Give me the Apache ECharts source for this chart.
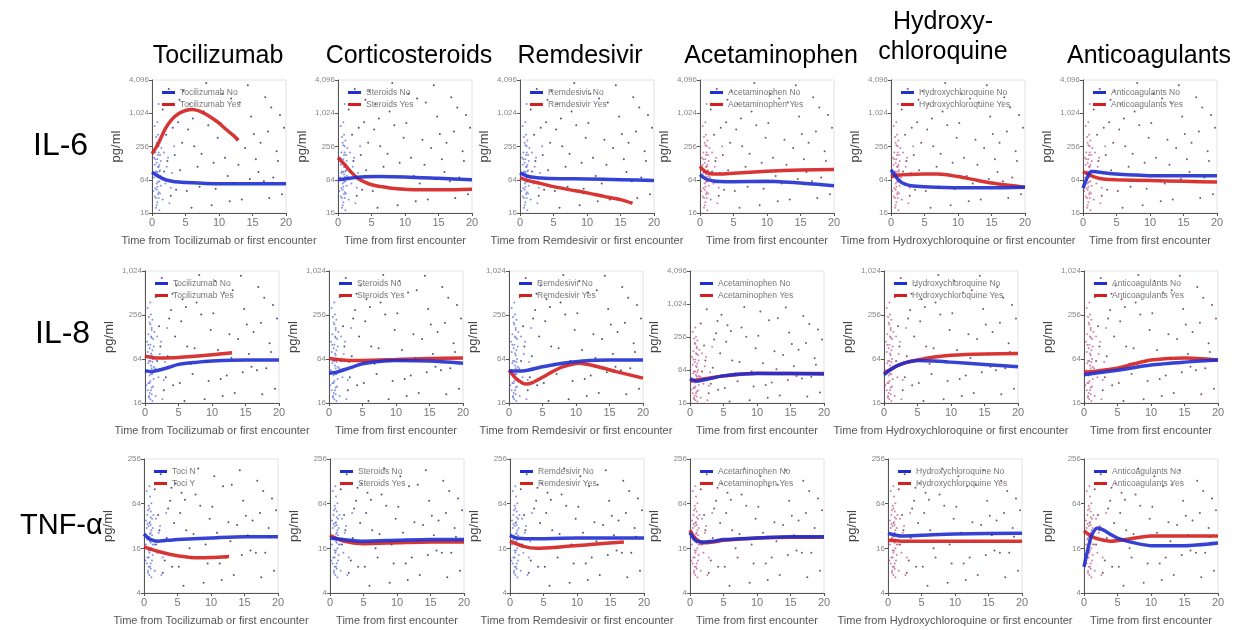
<!DOCTYPE html>
<html>
<head>
<meta charset="utf-8">
<script src="https://cdn.jsdelivr.net/npm/echarts@6/dist/echarts.min.js"></script>
<style>
  html, body { margin: 0; padding: 0; background: #fff; }
  #chart { width: 1237px; height: 630px; }
</style>
</head>
<body>
<div id="chart"></div>
<script>
// column / row labels
const colTitles = ['Tocilizumab', 'Corticosteroids', 'Remdesivir', 'Acetaminophen', 'Hydroxy-\nchloroquine', 'Anticoagulants'];
const legendKeys = ['Tocilizumab', 'Steroids', 'Remdesivir', 'Acetaminophen', 'Hydroxychloroquine', 'Anticoagulants'];
const xNames = [
  'Time from Tocilizumab or first encounter',
  'Time from first encounter',
  'Time from Remdesivir or first encounter',
  'Time from first encounter',
  'Time from Hydroxychloroquine or first encounter',
  'Time from first encounter'
];
const rowLabels = ['IL-6', 'IL-8', 'TNF-\u03b1'];

// y ranges (pg/ml, log base 4)
const il6Range = [16, 4096];
const il8Range = [16, 1024];
const il8RangeWide = [16, 4096];
const tnfRange = [4, 256];
const xTicks = [0, 5, 10, 15, 20];

// fitted curves, "No" group (blue) per column
const il6No = [
  [[0, 88], [0.5, 80], [1, 73], [1.5, 68], [2, 64], [3, 60], [4, 58], [5, 57], [8, 55], [12, 54], [16, 54], [20, 54]],
  [[0, 64], [1, 66], [2, 69], [3.5, 72], [6, 73], [10, 72], [15, 68], [20, 64]],
  [[0, 85], [0.5, 80], [1, 75], [2, 71], [3, 69], [6, 67], [10, 66], [15, 64], [20, 62]],
  [[0, 79], [0.5, 71], [1, 65], [2, 61], [3, 59.5], [5, 59], [10, 60], [15, 56], [20, 50]],
  [[0, 97], [0.5, 80], [1, 66], [1.5, 58], [2, 54], [3, 50], [5, 48], [10, 46], [15, 46], [20, 47]],
  [[0, 45], [0.5, 64], [1, 86], [1.5, 90], [2, 89], [3, 86], [5, 81], [7.5, 78], [10, 76], [15, 76], [20, 76]]
];
// "Yes" group (red)
const il6Yes = [
  [[0, 190], [0.5, 235], [1, 300], [2, 540], [3, 800], [4, 1010], [5, 1150], [6, 1200], [7, 1130], [8, 990], [9, 830], [10, 680], [11, 530], [12, 420], [12.9, 333]],
  [[0, 160], [1, 120], [2, 87], [3, 67], [4, 58], [5, 52], [6.5, 48], [8, 45], [12, 42], [16, 42], [20, 43]],
  [[0, 69], [1, 63], [3, 55], [5, 48], [7.5, 42], [10, 37], [12.5, 32], [15, 28], [16.8, 24]],
  [[0, 112], [0.5, 96], [1, 87], [2, 81], [3, 81], [5, 84], [10, 91], [15, 96], [20, 98]],
  [[0, 73], [1, 78], [3, 80], [5, 81], [7, 81], [10, 73], [13, 62], [15, 56], [20, 47]],
  [[0, 90], [1, 78], [2, 70], [3, 66], [5, 64], [10, 62], [15, 60], [20, 58]]
];
const il8No = [
  [[0, 44], [1, 43], [2, 45], [3.5, 49], [5, 54], [7.5, 57.5], [10, 60], [15, 62], [20, 62]],
  [[0, 41], [1, 42], [3, 48], [5, 55], [7.5, 59], [10, 61], [15, 60], [20, 56]],
  [[0, 44], [2, 44], [5, 50], [8, 56], [11, 60], [15, 62], [20, 62]],
  [[0, 44], [1, 40], [2, 42], [5, 50], [10, 55], [15, 55], [20, 54]],
  [[0, 39], [1, 46], [2, 52], [3.5, 58], [5, 61], [7.5, 60], [10, 58], [15, 54], [20, 50]],
  [[0, 39], [5, 45], [10, 53], [15, 58], [20, 62]]
];
const il8Yes = [
  [[0, 70], [2, 66], [5, 67], [10, 73], [13, 78]],
  [[0, 65], [2, 62], [4, 61], [10, 63], [15, 65], [20, 66]],
  [[0, 45], [1, 35], [2, 30], [2.6, 29], [3.5, 30.5], [5, 36], [6.5, 43], [8, 50], [10.5, 56], [13, 51], [16, 43], [20, 35]],
  [[0, 40], [1, 42], [3, 46], [5, 50], [10, 56], [15, 55], [20, 55]],
  [[0, 41], [1, 46], [2, 52], [3.5, 58], [5, 62], [7.5, 68], [10, 72], [15, 75], [20, 76]],
  [[0, 42], [5, 48], [7.5, 55], [10, 62], [15, 66], [20, 62]]
];
const tnfNo = [
  [[0, 25], [0.5, 22.5], [1, 21], [2, 20], [3.5, 20.5], [5, 21], [10, 22], [15, 23], [20, 23]],
  [[0, 22], [2, 21], [5, 20], [10, 20.5], [15, 21], [20, 21]],
  [[0, 24], [1, 22], [3, 21.5], [10, 22], [20, 22]],
  [[0, 26], [0.5, 22], [1, 20], [2, 19.5], [3.5, 20], [5, 21], [10, 22], [15, 23], [20, 23]],
  [[0, 25.6], [2, 23.5], [5, 24], [10, 25], [20, 25.6]],
  [[0, 9], [0.5, 14.5], [1, 22], [1.5, 27.5], [2, 30], [3, 28], [4, 24.5], [5, 22], [7, 19.4], [10, 17.4], [15, 17.4], [20, 18.9]]
];
const tnfYes = [
  [[0, 16.7], [1, 15.6], [2, 14.6], [3.5, 13.5], [5, 12.7], [8, 11.9], [10, 12], [12.7, 12.4]],
  [[0, 24], [2, 20], [5, 18.5], [10, 19], [15, 19.5], [20, 19.5]],
  [[0, 20], [2, 17], [4, 16], [7, 16.5], [12, 18], [17, 19.5]],
  [[0, 28], [0.5, 23.5], [1, 21], [2, 19], [3.5, 19.5], [5, 20.5], [10, 22], [15, 22.5], [20, 22.5]],
  [[0, 20.5], [2, 20], [10, 20], [20, 20]],
  [[0, 27.5], [1, 23.5], [2, 21.5], [4, 20], [7, 21.6], [10, 23.5], [15, 23.5], [20, 23.5]]
];

// individual measurements: sparse points and the early (day 0-3) cluster
const il6Points = [[2.1,420],[3.4,180],[4.2,95],[5.6,1500],[6.3,260],[7.1,48],[8.4,620],[9.2,130],[10.5,2300],[11.3,75],[12.6,340],[13.4,28],[14.8,890],[15.5,150],[16.7,60],[17.3,480],[18.6,210],[19.4,35],[2.8,33],[3.9,700],[4.7,2600],[5.2,40],[6.8,110],[7.7,1100],[8.9,22],[9.8,370],[10.9,160],[11.8,1900],[12.2,55],[13.9,240],[14.3,3300],[15.9,88],[16.2,300],[17.8,1300],[18.1,70],[19.7,560],[1.6,1200],[2.5,2800],[3.1,560],[4.5,300],[5.9,20],[6.1,820],[7.4,190],[8.1,3600],[9.5,44],[10.2,680],[11.6,26],[12.9,120],[13.1,1600],[14.6,66],[15.2,430],[16.9,2000],[17.5,30],[18.8,140],[19.1,950],[1.8,90],[2.3,140],[3.6,42],[4.1,1800],[5.4,520]];
const il6Early = [[0.3,70],[0.4,120],[0.5,45],[0.5,200],[0.6,30],[0.6,90],[0.7,300],[0.7,55],[0.8,150],[0.8,25],[0.9,80],[0.9,420],[1.0,38],[1.0,110],[1.0,260],[1.1,60],[1.1,18],[1.2,180],[1.2,95],[1.3,50],[0.4,600],[0.6,20],[0.8,700],[0.9,35],[1.0,1500],[0.7,130],[0.5,85],[1.4,240],[1.3,140],[0.3,160],[1.1,330],[0.2,40],[1.5,70],[1.6,28],[1.8,200],[2.0,55],[2.2,110],[2.6,24],[3.0,85],[3.3,260],[0.8,48],[0.9,180],[1.0,72],[0.7,22],[0.6,380],[1.1,120],[0.8,88],[1.0,30],[0.9,58],[1.2,36],[0.5,150],[0.7,42],[1.0,200],[0.9,110],[0.8,270],[1.1,90],[1.3,75],[0.4,32],[2.4,160],[2.8,46]];
const il8Points = [[2.1,180],[3.4,70],[4.2,28],[5.6,420],[6.3,95],[7.1,40],[8.4,260],[9.2,60],[10.5,750],[11.3,34],[12.6,140],[13.4,22],[14.8,310],[15.5,75],[16.7,45],[17.3,200],[18.6,105],[19.4,25],[2.8,24],[3.9,300],[4.7,650],[5.2,30],[6.8,55],[7.7,380],[8.9,18],[9.8,160],[10.9,85],[11.8,520],[12.2,38],[13.9,120],[14.3,880],[15.9,50],[16.2,150],[17.8,440],[18.1,48],[19.7,230],[1.6,450],[2.5,820],[3.6,230],[4.5,130],[5.9,17],[6.1,330],[7.4,90],[8.1,900],[9.5,32],[10.2,270],[11.6,20],[12.9,66],[13.1,560],[14.6,42],[15.2,190],[16.9,620],[17.5,21],[18.8,80],[19.1,350],[1.8,60],[2.3,95],[3.1,36],[4.1,500],[5.4,210]];
const il8Early = [[0.3,45],[0.4,80],[0.5,30],[0.5,140],[0.6,20],[0.6,60],[0.7,200],[0.7,38],[0.8,100],[0.8,18],[0.9,52],[0.9,260],[1.0,26],[1.0,72],[1.0,170],[1.1,40],[1.1,17],[1.2,120],[1.2,64],[1.3,34],[0.4,320],[0.6,19],[0.8,380],[0.9,24],[1.0,160],[0.7,90],[0.5,56],[1.4,150],[1.3,95],[0.3,110],[1.1,220],[0.2,28],[1.5,48],[1.6,20],[1.8,130],[2.0,36],[2.2,75],[2.6,18],[3.0,58],[3.3,170],[0.8,32],[0.9,130],[1.0,48],[0.7,22],[0.6,240],[1.1,84],[0.8,60],[1.0,21],[0.9,40],[1.2,27],[0.5,100],[0.7,30],[1.0,125],[0.9,76],[0.8,190],[1.1,58],[1.3,50],[0.4,24],[2.4,110],[2.8,33]];
const tnfPoints = [[2.1,45],[3.4,22],[4.2,9],[5.6,90],[6.3,28],[7.1,12],[8.4,60],[9.2,18],[10.5,150],[11.3,10],[12.6,36],[13.4,7],[14.8,70],[15.5,24],[16.7,14],[17.3,48],[18.6,30],[19.4,8],[2.8,7.5],[3.9,70],[4.7,120],[5.2,9],[6.8,16],[7.7,85],[8.9,5.5],[9.8,40],[10.9,26],[11.8,110],[12.2,12],[13.9,33],[14.3,180],[15.9,15],[16.2,38],[17.8,95],[18.1,14],[19.7,52],[1.6,100],[2.5,160],[3.6,55],[4.5,35],[5.9,5],[6.1,72],[7.4,25],[8.1,190],[9.5,10],[10.2,58],[11.6,6],[12.9,20],[13.1,115],[14.6,13],[15.2,44],[16.9,130],[17.5,6.5],[18.8,23],[19.1,75],[1.8,18],[2.3,28],[3.1,11],[4.1,105],[5.4,48]];
const tnfEarly = [[0.3,18],[0.4,30],[0.5,12],[0.5,45],[0.6,8],[0.6,22],[0.7,60],[0.7,15],[0.8,35],[0.8,7],[0.9,20],[0.9,80],[1.0,10],[1.0,26],[1.0,50],[1.1,16],[1.1,6.5],[1.2,40],[1.2,24],[1.3,13],[0.4,95],[0.6,7.5],[0.8,110],[0.9,9],[1.0,42],[0.7,32],[0.5,21],[1.4,45],[1.3,30],[0.3,38],[1.1,65],[0.2,11],[1.5,18],[1.6,8],[1.8,40],[2.0,14],[2.2,26],[2.6,7],[3.0,20],[3.3,48],[0.8,14],[0.9,36],[1.0,19],[0.7,9],[0.6,52],[1.1,28],[0.8,23],[1.0,8.5],[0.9,15],[1.2,11],[0.5,34],[0.7,12],[1.0,33],[0.9,25],[0.8,55],[1.1,21],[1.3,18],[0.4,10],[2.4,32],[2.8,12]];

// panel layout (plot areas in px)
const rowTops = [80, 271, 459];
const rowHeights = [133, 132, 134];
const colLefts = [
  [152, 338, 520, 700, 891, 1083],
  [145, 329, 509, 690, 884, 1084],
  [144, 330, 510, 690, 888, 1084]
];
const panelW = 134;

const BLUE = '#1f2fd0';
const RED = '#d41f1f';

const rows = [
  { no: il6No, yes: il6Yes, pts: il6Points, early: il6Early },
  { no: il8No, yes: il8Yes, pts: il8Points, early: il8Early },
  { no: tnfNo, yes: tnfYes, pts: tnfPoints, early: tnfEarly }
];

function yRange(r, c) {
  if (r === 0) return il6Range;
  if (r === 1) return c === 3 ? il8RangeWide : il8Range;
  return tnfRange;
}

const grid = [], xAxis = [], yAxis = [], series = [], legend = [], title = [];

const titleCenters = [213, 404, 575, 766, 938, 1144];
colTitles.forEach((t, c) => {
  title.push({
    text: t, left: titleCenters[c], top: c === 4 ? 2 : 36, textAlign: 'center',
    textStyle: { fontFamily: 'Liberation Sans', fontSize: 25, fontWeight: 'normal', color: '#000', lineHeight: 30 }
  });
});
const rowLabelPos = [[28, 125], [30, 313], [15, 506]];
const rowLabelSizes = [32, 32, 29];
rowLabels.forEach((t, r) => {
  title.push({
    text: t, left: rowLabelPos[r][0], top: rowLabelPos[r][1],
    textStyle: { fontFamily: 'Liberation Sans', fontSize: rowLabelSizes[r], fontWeight: 'normal', color: '#000' }
  });
});

let gi = 0;
rows.forEach((row, r) => {
  for (let c = 0; c < 6; c++) {
    const left = colLefts[r][c], top = rowTops[r];
    grid.push({ left: left, top: top, width: panelW, height: rowHeights[r], show: true, borderColor: '#e2e2e2', borderWidth: 1 });
    xAxis.push({
      gridIndex: gi, type: 'value', min: xTicks[0], max: xTicks[xTicks.length - 1], interval: 5,
      name: xNames[c], nameLocation: 'middle', nameGap: 22,
      nameTextStyle: { fontFamily: 'Liberation Sans', fontSize: 11, color: '#555' },
      axisLine: { lineStyle: { color: '#555', width: 1 } },
      axisTick: { length: 3, lineStyle: { color: '#555' } },
      axisLabel: { fontFamily: 'Liberation Sans', fontSize: 11, color: '#777', margin: 4 },
      splitLine: { show: false }
    });
    const yr = yRange(r, c);
    yAxis.push({
      gridIndex: gi, type: 'log', logBase: 4, min: yr[0], max: yr[1], interval: 1,
      name: 'pg/ml', nameLocation: 'middle', nameGap: 29, nameRotate: 90,
      nameTextStyle: { fontFamily: 'Liberation Sans', fontSize: 13, color: '#444' },
      axisLine: { show: true, lineStyle: { color: '#555', width: 1 } },
      axisTick: { show: true, length: 3, lineStyle: { color: '#555' } },
      axisLabel: { fontFamily: 'Liberation Sans', fontSize: 8, color: '#888', margin: 3,
        formatter: v => Math.round(v).toLocaleString('en-US') },
      splitLine: { show: false }
    });
    const warm = c >= 3;
    const noName = r === 2 && c === 0 ? 'Toci N' : legendKeys[c] + ' No';
    const yesName = r === 2 && c === 0 ? 'Toci Y' : legendKeys[c] + ' Yes';
    series.push({
      type: 'scatter', name: 'points', xAxisIndex: gi, yAxisIndex: gi, data: row.pts,
      symbolSize: 2, silent: true,
      itemStyle: { color: warm ? '#5a1a3a' : '#1a1a55', opacity: 0.75 }
    });
    series.push({
      type: 'scatter', name: 'early', xAxisIndex: gi, yAxisIndex: gi, data: row.early,
      symbolSize: 2, silent: true,
      itemStyle: { color: warm ? '#b0306a' : '#3848d8', opacity: 0.6 }
    });
    series.push({
      type: 'line', name: yesName, xAxisIndex: gi, yAxisIndex: gi, data: row.yes[c],
      smooth: 0.25, showSymbol: false, silent: true,
      lineStyle: { color: RED, width: 3.5, opacity: 0.9 }, itemStyle: { color: RED }
    });
    series.push({
      type: 'line', name: noName, xAxisIndex: gi, yAxisIndex: gi, data: row.no[c],
      smooth: 0.25, showSymbol: false, silent: true,
      lineStyle: { color: BLUE, width: 3.5, opacity: 0.9 }, itemStyle: { color: BLUE }
    });
    legend.push({
      data: [noName, yesName], left: left + 5, top: top + 3, orient: 'vertical',
      icon: 'rect', itemWidth: 13, itemHeight: 3, itemGap: 3, selectedMode: false,
      textStyle: { fontFamily: 'Liberation Sans', fontSize: 8.5, color: '#777' }
    });
    gi++;
  }
});

const chart = echarts.init(document.getElementById('chart'), null, { renderer: 'canvas' });
chart.setOption({
  animation: false,
  backgroundColor: '#fff',
  title: title,
  grid: grid,
  xAxis: xAxis,
  yAxis: yAxis,
  legend: legend,
  series: series
});
</script>
</body>
</html>
